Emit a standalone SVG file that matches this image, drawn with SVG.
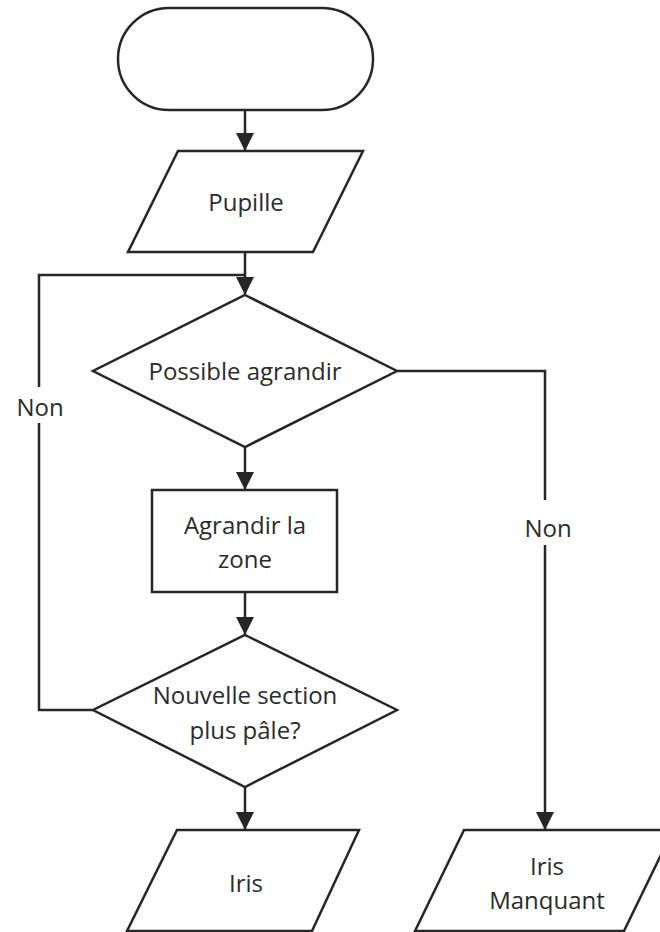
<svg xmlns="http://www.w3.org/2000/svg" width="660" height="932" viewBox="0 0 660 932">
  <style>
    .shape { fill: #ffffff; stroke: #262626; stroke-width: 2.5; stroke-linejoin: miter; }
    .conn { fill: none; stroke: #262626; stroke-width: 2.5; }
    .lbl { font-family: "Open Sans", "Noto Sans", "DejaVu Sans", sans-serif; font-size: 24px; fill: #2b2b2b; text-anchor: middle; }
  </style>
  <defs>
    <marker id="arrow" markerUnits="userSpaceOnUse" markerWidth="18" markerHeight="18" viewBox="0 0 18 18" refX="18" refY="9" orient="auto">
      <path d="M0,0 L18,9 L0,18 Z" fill="#262626"/>
    </marker>
  </defs>
  <rect width="660" height="932" fill="#ffffff"/>

  <g id="connectors">
    <path class="conn" d="M245,110 L245,151" marker-end="url(#arrow)"/>
    <path class="conn" d="M245,252 L245,295" marker-end="url(#arrow)"/>
    <path class="conn" d="M93,710 L39,710 L39,423"/>
    <path class="conn" d="M39,387 L39,275 L245,275"/>
    <path class="conn" d="M245,447 L245,490" marker-end="url(#arrow)"/>
    <path class="conn" d="M245,592 L245,635" marker-end="url(#arrow)"/>
    <path class="conn" d="M245,787 L245,830" marker-end="url(#arrow)"/>
    <path class="conn" d="M397,371 L545,371 L545,500"/>
    <path class="conn" d="M545,545 L545,830" marker-end="url(#arrow)"/>
    <text class="lbl" x="40" y="416">Non</text>
    <text class="lbl" x="548" y="537">Non</text>
  </g>

  <g id="start">
    <rect class="shape" x="118" y="8" width="255" height="102" rx="51" ry="51"/>
  </g>

  <g id="pupille">
    <polygon class="shape" points="178,151 363,151 313,252 128,252"/>
    <text class="lbl" x="246" y="211">Pupille</text>
  </g>

  <g id="possible">
    <polygon class="shape" points="245,295 397,371 245,447 93,371"/>
    <text class="lbl" x="245" y="380">Possible agrandir</text>
  </g>

  <g id="agrandir">
    <rect class="shape" x="152" y="490" width="185" height="102"/>
    <text class="lbl" x="245" y="534">Agrandir la</text>
    <text class="lbl" x="245" y="568">zone</text>
  </g>

  <g id="nouvelle">
    <polygon class="shape" points="245,635 397,710 245,787 93,710"/>
    <text class="lbl" x="245" y="704">Nouvelle section</text>
    <text class="lbl" x="245" y="739">plus pâle?</text>
  </g>

  <g id="iris">
    <polygon class="shape" points="177,830 359,830 312,931 127,931"/>
    <text class="lbl" x="246" y="892">Iris</text>
  </g>

  <g id="iris-manquant">
    <polygon class="shape" points="464,830 673,830 624,931 415,931"/>
    <text class="lbl" x="547" y="875">Iris</text>
    <text class="lbl" x="547" y="909">Manquant</text>
  </g>
</svg>
